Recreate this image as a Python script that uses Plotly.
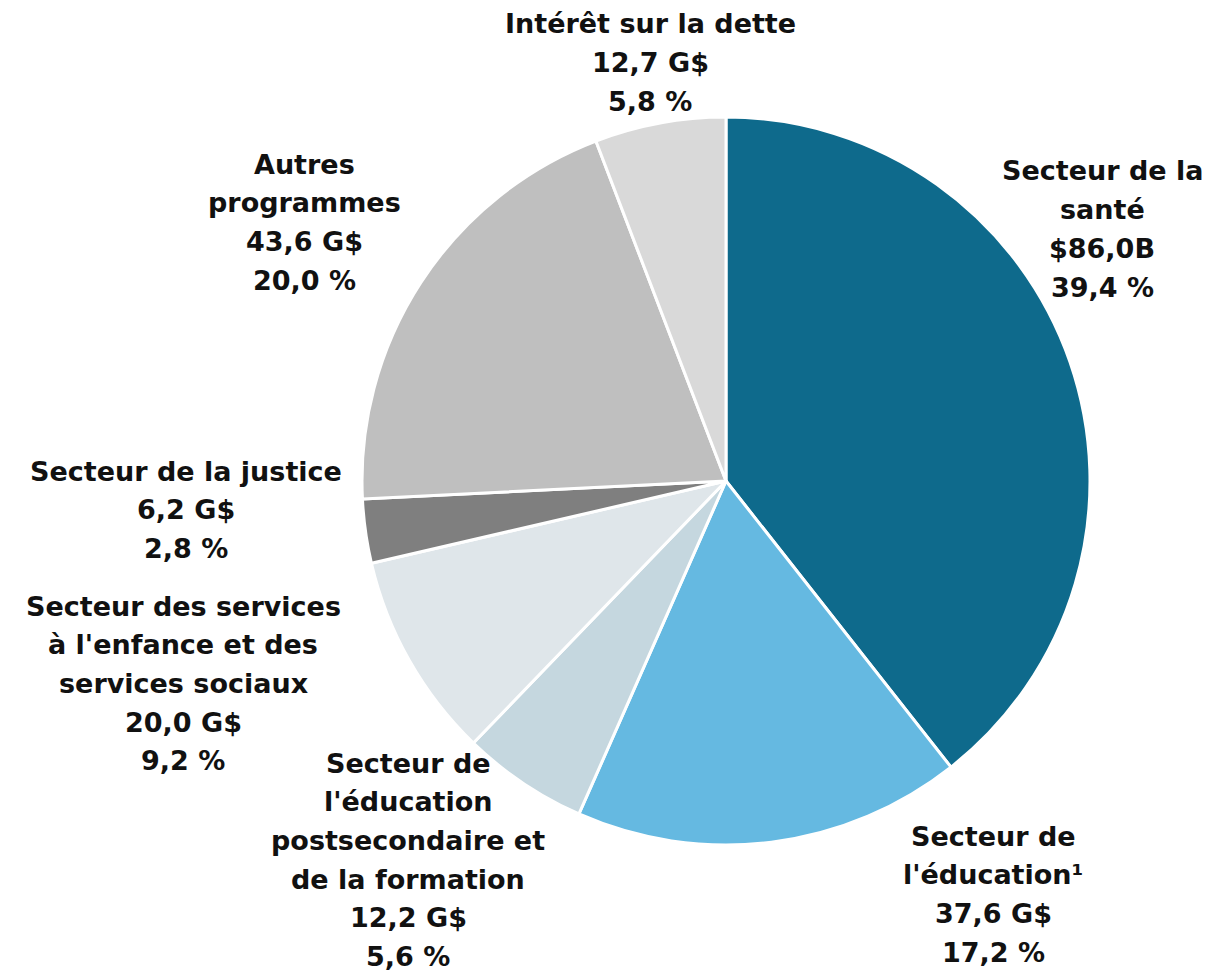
import plotly.graph_objects as go

names = [
    ["Secteur de la", "santé"],
    ["Secteur de", "l'éducation¹"],
    ["Secteur de", "l'éducation", "postsecondaire et", "de la formation"],
    ["Secteur des services", "à l'enfance et des", "services sociaux"],
    ["Secteur de la justice"],
    ["Autres", "programmes"],
    ["Intérêt sur la dette"],
]
amounts = ["$86,0B", "37,6 G$", "12,2 G$", "20,0 G$", "6,2 G$", "43,6 G$", "12,7 G$"]
values = [86.0, 37.6, 12.2, 20.0, 6.2, 43.6, 12.7]
percents = ["39,4 %", "17,2 %", "5,6 %", "9,2 %", "2,8 %", "20,0 %", "5,8 %"]
colors = ["#0E6A8C", "#65B9E1", "#C5D7DF", "#DFE6EA", "#7F7F7F", "#BFBFBF", "#D9D9D9"]

# label centre x and first-line centre y in pixels (from top)
label_pos = [(1094, 163), (985, 828), (400, 755), (175, 598), (178, 463), (296, 156), (642, 16)]
line_gap = 38.7

W, H = 1210, 975
cx, cy, r = 718, 473, 364

fig = go.Figure(go.Pie(
    values=values,
    labels=[" ".join(n) for n in names],
    marker=dict(colors=colors, line=dict(color="white", width=3)),
    sort=False,
    direction="clockwise",
    rotation=0,
    textinfo="none",
    hoverinfo="label+value+percent",
    showlegend=False,
    domain=dict(x=[(cx - r) / W, (cx + r) / W], y=[(H - cy - r) / H, (H - cy + r) / H]),
))

for n, a, p, (x, y0) in zip(names, amounts, percents, label_pos):
    lines = n + [a, p]
    for i, line in enumerate(lines):
        fig.add_annotation(
            x=x / W, y=1 - (y0 + i * line_gap) / H, xref="paper", yref="paper",
            text=f"<b>{line}</b>",
            showarrow=False, xanchor="center", yanchor="middle", align="center",
            borderpad=0,
            font=dict(family="DejaVu Sans, sans-serif", size=27, color="#111111"),
        )

fig.update_layout(
    width=W, height=H,
    margin=dict(l=0, r=0, t=0, b=0),
    paper_bgcolor="white", plot_bgcolor="white",
)
fig.write_html("out.html")
